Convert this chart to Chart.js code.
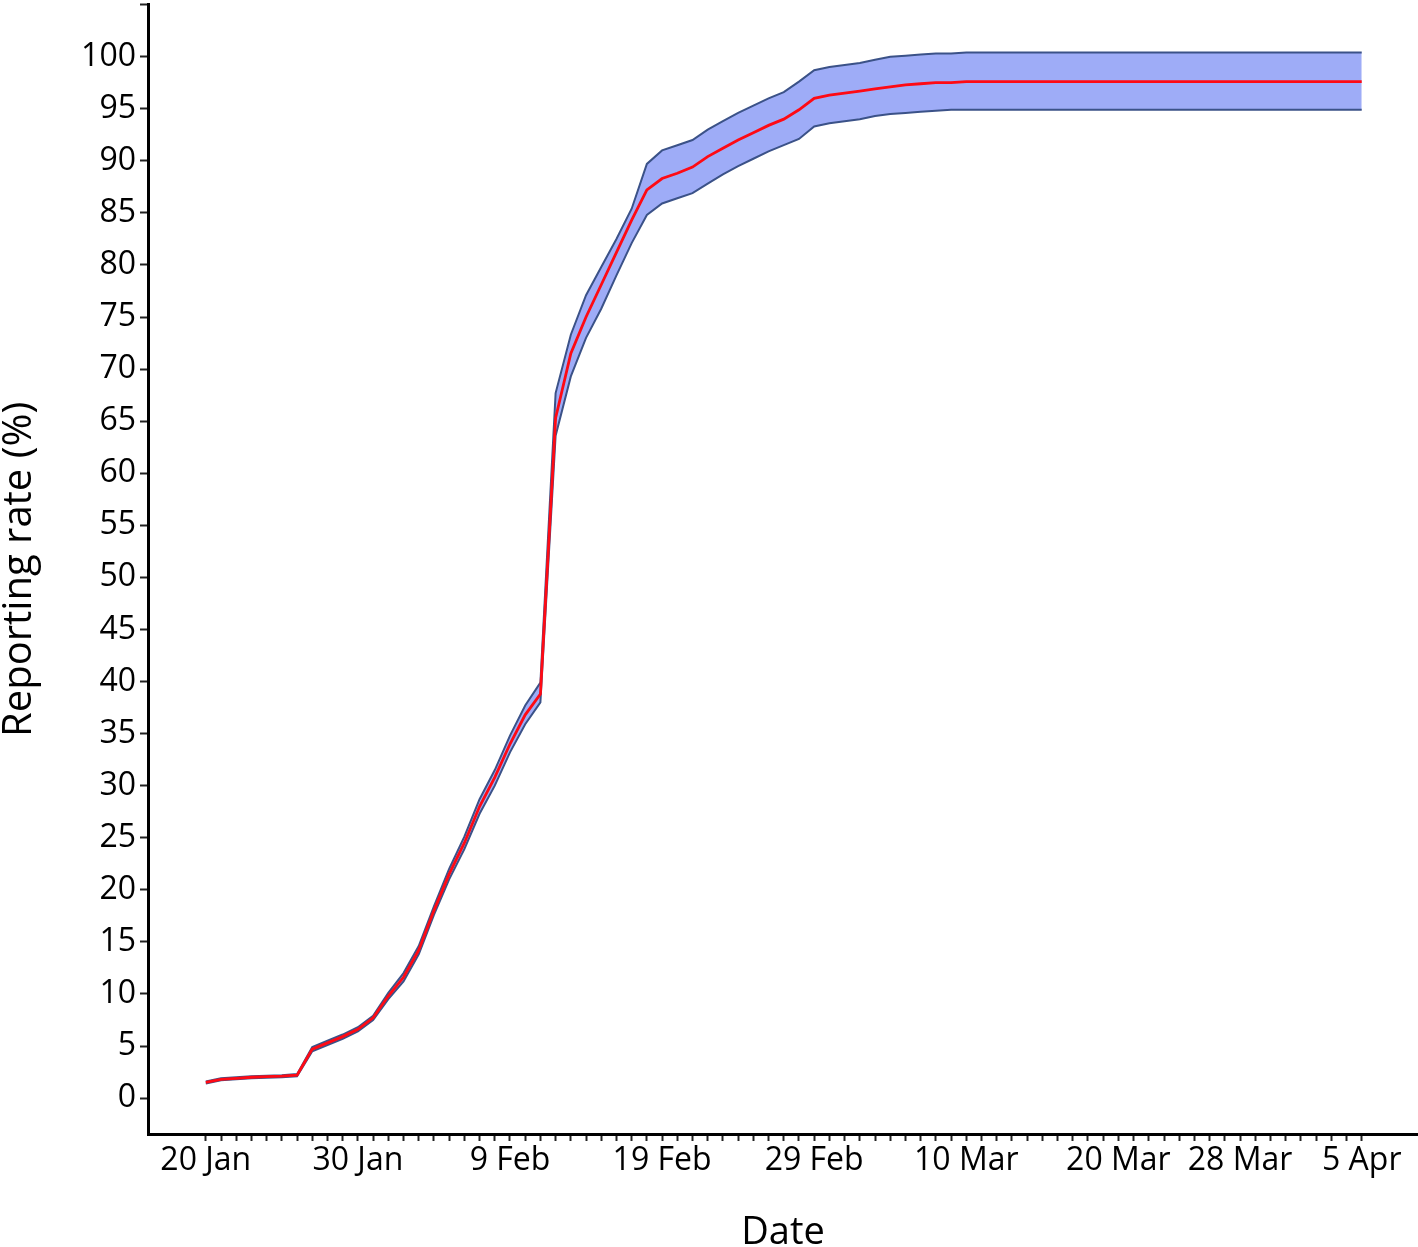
<!DOCTYPE html>
<html>
<head>
<meta charset="utf-8">
<script src="https://cdn.jsdelivr.net/npm/chart.js@4"></script>
<style>
  body { margin: 0; background: #fff; }
  #wrap { width: 1418px; height: 1247px; position: relative; }
</style>
</head>
<body>
<div id="wrap"><canvas id="chart"></canvas></div>
<script>
// days since 20 Jan, one value per day up to 5 Apr
const medianRate = [
    1.5, 1.8, 1.9, 2.0, 2.05, 2.1, 2.2, 4.7, 5.3, 5.9,
    6.6, 7.7, 9.8, 11.6, 14.2, 18.0, 21.5, 24.5, 28.0, 30.8,
    34.0, 36.8, 38.8, 65.3, 71.5, 75.0, 78.1, 81.2, 84.3, 87.2,
    88.3, 88.8, 89.4, 90.4, 91.2, 92.0, 92.7, 93.4, 94.0, 94.9,
    96.0, 96.3, 96.5, 96.7, 96.9, 97.1, 97.3, 97.4, 97.5, 97.5,
    97.6, 97.6, 97.6, 97.6, 97.6, 97.6, 97.6, 97.6, 97.6, 97.6,
    97.6, 97.6, 97.6, 97.6, 97.6, 97.6, 97.6, 97.6, 97.6, 97.6,
    97.6, 97.6, 97.6, 97.6, 97.6, 97.6, 97.6
];
const upperRate = [
    1.6, 1.9, 2.0, 2.1, 2.15, 2.2, 2.3, 4.9, 5.5, 6.1,
    6.8, 7.9, 10.1, 12.0, 14.6, 18.4, 22.0, 25.1, 28.7, 31.5,
    34.8, 37.7, 39.9, 67.7, 73.3, 77.1, 79.8, 82.5, 85.4, 89.7,
    91.0, 91.5, 92.0, 93.0, 93.8, 94.6, 95.3, 96.0, 96.6, 97.6,
    98.7, 99.0, 99.2, 99.4, 99.7, 100.0, 100.1, 100.2, 100.3, 100.3,
    100.4, 100.4, 100.4, 100.4, 100.4, 100.4, 100.4, 100.4, 100.4, 100.4,
    100.4, 100.4, 100.4, 100.4, 100.4, 100.4, 100.4, 100.4, 100.4, 100.4,
    100.4, 100.4, 100.4, 100.4, 100.4, 100.4, 100.4
];
const lowerRate = [
    1.4, 1.7, 1.8, 1.9, 1.95, 2.0, 2.1, 4.5, 5.1, 5.7,
    6.4, 7.5, 9.5, 11.2, 13.8, 17.6, 21.0, 23.9, 27.3, 30.0,
    33.2, 35.9, 38.0, 63.6, 69.3, 73.0, 75.8, 79.0, 82.1, 84.8,
    85.9, 86.4, 86.9, 87.8, 88.7, 89.5, 90.2, 90.9, 91.5, 92.1,
    93.3, 93.6, 93.8, 94.0, 94.3, 94.5, 94.6, 94.7, 94.8, 94.9,
    94.9, 94.9, 94.9, 94.9, 94.9, 94.9, 94.9, 94.9, 94.9, 94.9,
    94.9, 94.9, 94.9, 94.9, 94.9, 94.9, 94.9, 94.9, 94.9, 94.9,
    94.9, 94.9, 94.9, 94.9, 94.9, 94.9, 94.9
];

const tickDays = [0, 10, 20, 30, 40, 50, 60, 68, 76];
const tickLabels = ['20 Jan', '30 Jan', '9 Feb', '19 Feb', '29 Feb', '10 Mar', '20 Mar', '28 Mar', '5 Apr'];
const yTicks = [0, 5, 10, 15, 20, 25, 30, 35, 40, 45, 50, 55, 60, 65, 70, 75, 80, 85, 90, 95, 100, 105];

const toPoints = (values) => values.map((v, i) => ({x: i, y: v}));

const FONT = "'Open Sans', 'DejaVu Sans', sans-serif";
const BAND_LINE = '#3b5288';
const BAND_FILL = 'rgba(150, 165, 246, 0.92)';

const createChart = () => {
    const data = {
        datasets: [
            {
                label: 'Reporting rate',
                data: toPoints(medianRate),
                borderColor: '#ff0a14',
                borderWidth: 2.8,
                pointRadius: 0,
                fill: false,
                tension: 0
            },
            {
                label: 'Upper',
                data: toPoints(upperRate),
                borderColor: BAND_LINE,
                borderWidth: 2,
                pointRadius: 0,
                backgroundColor: BAND_FILL,
                fill: {target: 2},
                tension: 0
            },
            {
                label: 'Lower',
                data: toPoints(lowerRate),
                borderColor: BAND_LINE,
                borderWidth: 2,
                pointRadius: 0,
                fill: false,
                tension: 0
            }
        ]
    };

    const config = {
        type: 'line',
        data,
        options: {
            responsive: true,
            maintainAspectRatio: false,
            animation: false,
            layout: {padding: 0},
            plugins: {
                legend: {display: false},
                tooltip: {enabled: false},
                filler: {drawTime: 'beforeDatasetsDraw'}
            },
            scales: {
                x: {
                    type: 'linear',
                    min: -3.8,
                    max: 79.7,
                    afterBuildTicks: (scale) => {
                        const ticks = [];
                        for (let d = 0; d <= 76; d++) ticks.push({value: d});
                        scale.ticks = ticks;
                    },
                    afterFit: (scale) => { scale.height = 113; },
                    grid: {
                        drawOnChartArea: false,
                        drawTicks: true,
                        tickLength: 7,
                        tickWidth: 2,
                        color: '#222'
                    },
                    border: {display: true, color: '#000', width: 3},
                    ticks: {
                        autoSkip: false,
                        maxRotation: 0,
                        padding: 1,
                        color: '#000',
                        font: {family: FONT, size: 32},
                        callback: (value) => {
                            const idx = tickDays.indexOf(value);
                            return idx >= 0 ? tickLabels[idx] : '';
                        }
                    },
                    title: {
                        display: true,
                        text: 'Date',
                        color: '#000',
                        font: {family: FONT, size: 38, lineHeight: 1},
                        padding: {top: 0, bottom: -5}
                    }
                },
                y: {
                    min: -3.45,
                    max: 105.0,
                    afterBuildTicks: (scale) => {
                        scale.ticks = yTicks.map(v => ({value: v}));
                    },
                    afterFit: (scale) => { scale.width = 148; },
                    grid: {
                        drawOnChartArea: false,
                        drawTicks: true,
                        tickLength: 8,
                        tickWidth: 2,
                        color: '#222'
                    },
                    border: {display: true, color: '#000', width: 3},
                    ticks: {
                        padding: 4,
                        color: '#000',
                        font: (ctx) => ctx.tick && ctx.tick.value === 105
                            ? {family: FONT, size: 1}
                            : {family: FONT, size: 32},
                        callback: (value) => value === 105 ? '' : String(value)
                    },
                    title: {
                        display: true,
                        text: 'Reporting rate (%)',
                        color: '#000',
                        font: {family: FONT, size: 40, lineHeight: 1},
                        padding: {top: 0, bottom: 0}
                    }
                }
            }
        }
    };

    new Chart(document.getElementById('chart'), config);
};

window.onload = () => {
    createChart();
};
</script>
</body>
</html>
